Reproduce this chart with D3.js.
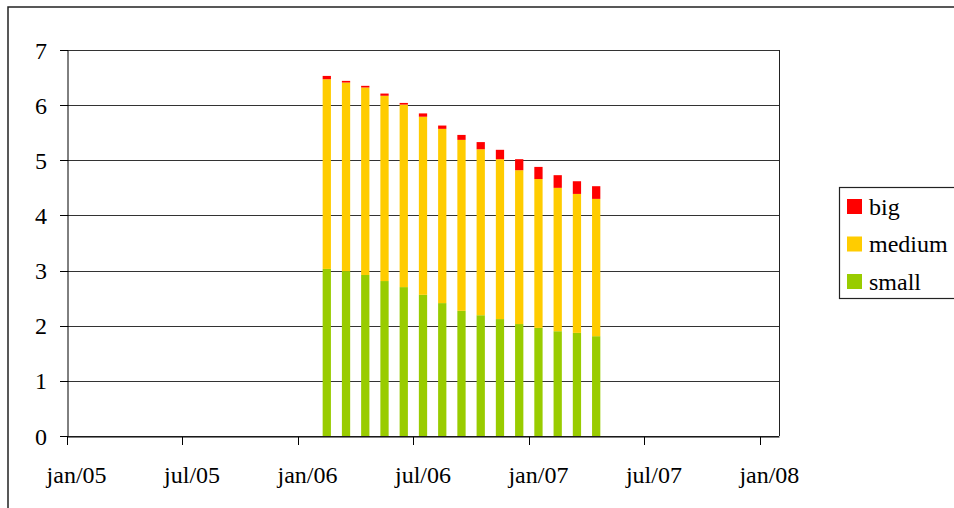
<!DOCTYPE html>
<html>
<head>
<meta charset="utf-8">
<script src="https://cdn.jsdelivr.net/npm/d3@7"></script>
<style>
  body { margin: 0; background: #fff; }
  text { font-family: "Liberation Serif", "DejaVu Serif", serif; }
</style>
</head>
<body>
<div id="chart"></div>
<script>
// months shown on the axis, jan/05 .. jan/08 (37 slots)
const axisStartYear = 2005
const monthCount = 37
const tickMonths = [0, 6, 12, 18, 24, 30, 36]
const tickLabels = ['jan/05', 'jul/05', 'jan/06', 'jul/06', 'jan/07', 'jul/07', 'jan/08']

// one bar per month, feb/06 .. apr/07
const months = ['2006-02', '2006-03', '2006-04', '2006-05', '2006-06', '2006-07', '2006-08',
  '2006-09', '2006-10', '2006-11', '2006-12', '2007-01', '2007-02', '2007-03', '2007-04']
const small = [3.03, 2.99, 2.92, 2.81, 2.70, 2.56, 2.41, 2.27, 2.19, 2.12, 2.03, 1.96, 1.90, 1.87, 1.81]
const medium = [3.44, 3.42, 3.40, 3.36, 3.31, 3.23, 3.16, 3.10, 3.01, 2.90, 2.79, 2.70, 2.60, 2.52, 2.49]
const big = [0.06, 0.03, 0.03, 0.04, 0.03, 0.06, 0.06, 0.09, 0.13, 0.17, 0.20, 0.22, 0.23, 0.23, 0.23]

const seriesNames = ['small', 'medium', 'big']
const colors = { small: '#99cc00', medium: '#ffcc00', big: '#ff0000' }
const yTicks = [0, 1, 2, 3, 4, 5, 6, 7]

const FONT = '"Liberation Serif", "Times New Roman", serif'

/***********************************************************************/
//Layout
/***********************************************************************/
const width = 954
const height = 508
const plot = { left: 67, right: 779, top: 50, bottom: 436 }

const svg = d3.select('#chart')
  .append('svg')
  .attr('width', width)
  .attr('height', height)
  .style('display', 'block')

// outer chart border
svg.append('rect')
  .attr('x', 8)
  .attr('y', 7)
  .attr('width', width + 20)
  .attr('height', height + 20)
  .attr('fill', 'none')
  .attr('stroke', '#222')
  .attr('stroke-width', 1.5)

/***********************************************************************/
//Data + scales
/***********************************************************************/
const monthIndex = m => {
  const [yy, mm] = m.split('-').map(Number)
  return (yy - axisStartYear) * 12 + (mm - 1)
}

const rows = months.map((m, i) => ({ month: m, small: small[i], medium: medium[i], big: big[i] }))
const stacked = d3.stack().keys(seriesNames)(rows)

const x = d3.scaleLinear()
  .domain([0, monthCount])
  .range([plot.left, plot.right])

const y = d3.scaleLinear()
  .domain([0, 7])
  .range([plot.bottom, plot.top])

const slot = x(1) - x(0)
const barWidth = slot * 0.43

/***********************************************************************/
//Grid + plot frame
/***********************************************************************/
svg.append('g')
  .selectAll('line')
  .data(yTicks)
  .join('line')
  .attr('x1', x(0))
  .attr('x2', x(monthCount))
  .attr('y1', d => Math.round(y(d)) + 0.5)
  .attr('y2', d => Math.round(y(d)) + 0.5)
  .attr('stroke', '#333')
  .attr('stroke-width', 1)

svg.append('line')
  .attr('x1', Math.round(x(monthCount)) + 0.5)
  .attr('x2', Math.round(x(monthCount)) + 0.5)
  .attr('y1', y(7))
  .attr('y2', y(0))
  .attr('stroke', '#222')

/***********************************************************************/
//Bars
/***********************************************************************/
svg.append('g')
  .selectAll('g')
  .data(stacked)
  .join('g')
  .attr('fill', d => colors[d.key])
  .selectAll('rect')
  .data(d => d)
  .join('rect')
  .attr('x', d => x(monthIndex(d.data.month) + 0.5) - barWidth / 2)
  .attr('width', barWidth)
  .attr('y', d => y(d[1]))
  .attr('height', d => y(d[0]) - y(d[1]))

/***********************************************************************/
//Axes
/***********************************************************************/
svg.append('g')
  .attr('transform', `translate(${Math.round(x(0)) + 0.5},0)`)
  .call(d3.axisLeft(y).tickValues(yTicks).tickSize(8).tickSizeOuter(0).tickFormat(''))

svg.append('g')
  .attr('transform', `translate(0,${Math.round(y(0)) + 0.5})`)
  .call(d3.axisBottom(x).tickValues(tickMonths).tickSize(8).tickSizeOuter(0).tickFormat(''))

svg.selectAll('.domain, .tick line').attr('stroke', '#000')
svg.selectAll('.tick line').attr('shape-rendering', 'crispEdges')

svg.append('g')
  .selectAll('text')
  .data(yTicks)
  .join('text')
  .attr('x', 47)
  .attr('y', d => y(d))
  .attr('dy', '0.36em')
  .attr('text-anchor', 'end')
  .attr('font-family', FONT)
  .attr('font-size', 24)
  .attr('fill', '#000')
  .text(d => d)

svg.append('g')
  .selectAll('text')
  .data(tickMonths)
  .join('text')
  .attr('x', d => x(d + 0.5))
  .attr('y', 483)
  .attr('text-anchor', 'middle')
  .attr('font-family', FONT)
  .attr('font-size', 24)
  .attr('fill', '#000')
  .text((d, i) => tickLabels[i])

/***********************************************************************/
//Legend
/***********************************************************************/
const legend = svg.append('g')

legend.append('rect')
  .attr('x', 839.5)
  .attr('y', 187.5)
  .attr('width', 140)
  .attr('height', 111)
  .attr('fill', '#fff')
  .attr('stroke', '#222')
  .attr('stroke-width', 1.2)

const legendItems = legend.selectAll('g.item')
  .data(seriesNames.slice().reverse())
  .join('g')
  .attr('class', 'item')
  .attr('transform', (d, i) => `translate(847,${207 + i * 37.5})`)

legendItems.append('rect')
  .attr('x', 0)
  .attr('y', -8)
  .attr('width', 15)
  .attr('height', 15)
  .attr('fill', d => colors[d])

legendItems.append('text')
  .attr('x', 22)
  .attr('y', 0)
  .attr('dy', '0.33em')
  .attr('font-family', FONT)
  .attr('font-size', 24)
  .attr('fill', '#000')
  .text(d => d)
</script>
</body>
</html>
